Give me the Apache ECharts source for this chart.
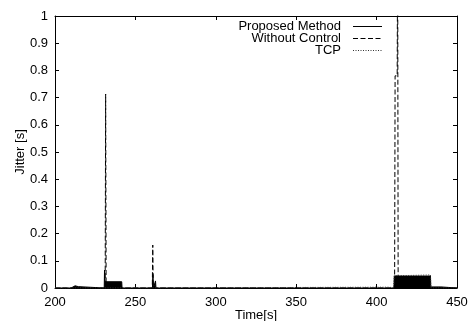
<!DOCTYPE html>
<html>
<head>
<meta charset="utf-8">
<script src="https://cdn.jsdelivr.net/npm/echarts@6/dist/echarts.min.js"></script>
<style>
  html, body { margin: 0; padding: 0; background: #fff; }
  #chart { width: 468px; height: 321px; }
</style>
</head>
<body>
<div id="chart"></div>
<script>
  // Proposed Method (solid)
  var pmTime = [200, 210, 210.5, 212.5, 214.5, 215, 230.6, 230.8, 231.1, 231.5, 241.5, 241.7,
    260.6, 260.9, 261.2, 262.2, 262.5, 262.8, 392.5, 393, 393.5, 398.3, 398.6, 398.9,
    410.8, 411, 433.5, 433.7, 440, 440.2, 450];
  var pmJitter = [0, 0, 0.005, 0.008, 0.005, 0, 0, 0.066, 0.023, 0.023, 0.023, 0,
    0, 0.05, 0, 0, 0.026, 0, 0, 0.005, 0, 0, 0.005, 0,
    0, 0.044, 0.044, 0.004, 0.004, 0, 0];
  // Without Control (dashed)
  var wcTime = [200, 231.2, 231.5, 231.8, 260.5, 260.8, 261.1, 411.2, 411.5, 412.8, 413.1, 413.4, 450];
  var wcJitter = [0, 0, 0.713, 0, 0, 0.158, 0, 0, 0.78, 0.78, 1.3, 0, 0];
  // TCP (dotted)
  var tcpTime = [200, 241.8, 242, 408, 410.5, 411, 419.5, 420, 433.5, 433.8, 450];
  var tcpJitter = [0, 0, 0.003, 0.003, 0, 0.046, 0.046, 0.048, 0.048, 0, 0];

  var seriesNames = ['Proposed Method', 'Without Control', 'TCP'];
  var dashes = [null, [5, 2.5], [1, 1.5]];

  function zip(xs, ys) {
    return xs.map(function (x, i) { return [x, ys[i]]; });
  }

  var font = 'Liberation Sans, Arial, Helvetica, sans-serif';
  var chart = echarts.init(document.getElementById('chart'));

  function xAx(pos, show) {
    return {
      type: 'value', position: pos, min: 200, max: 450, interval: 50,
      name: show ? 'Time[s]' : '', nameLocation: 'middle', nameGap: 21, nameMoveOverlap: false,
      nameTextStyle: { color: '#000', fontSize: 13, fontFamily: font },
      axisLine: { show: true, onZero: false, lineStyle: { color: '#000', width: 1 } },
      axisTick: { show: true, inside: true, length: 4, lineStyle: { color: '#000' } },
      axisLabel: { show: show, color: '#000', fontSize: 13, fontFamily: font, margin: 8,
        showMinLabel: true, showMaxLabel: true },
      splitLine: { show: false }
    };
  }
  function yAx(pos, show) {
    return {
      type: 'value', position: pos, min: 0, max: 1, interval: 0.1,
      name: show ? 'Jitter [s]' : '', nameLocation: 'middle', nameGap: 28, nameMoveOverlap: false,
      nameTextStyle: { color: '#000', fontSize: 13, fontFamily: font },
      axisLine: { show: true, onZero: false, lineStyle: { color: '#000', width: 1 } },
      axisTick: { show: true, inside: true, length: 4, lineStyle: { color: '#000' } },
      axisLabel: { show: show, color: '#000', fontSize: 13, fontFamily: font, margin: 7,
        showMinLabel: true, showMaxLabel: true },
      splitLine: { show: false }
    };
  }

  // key drawn by hand (text left of line sample, gnuplot style)
  var keyItems = [];
  seriesNames.forEach(function (name, i) {
    var y = 26.5 + i * 12;
    keyItems.push({
      type: 'text', x: 341, y: y,
      style: { text: name, fill: '#000', font: '13px ' + font, align: 'right', verticalAlign: 'middle' }
    });
    keyItems.push({
      type: 'line', shape: { x1: 353, y1: y, x2: 382, y2: y },
      style: { stroke: i === 2 ? '#333' : '#000', lineWidth: 1, lineDash: dashes[i] }
    });
  });

  var option = {
    animation: false,
    backgroundColor: '#fff',
    grid: { left: 55, right: 11, top: 16, bottom: 33, containLabel: false, outerBoundsMode: 'none' },
    graphic: keyItems,
    xAxis: [xAx('bottom', true), xAx('top', false)],
    yAxis: [yAx('left', true), yAx('right', false)],
    series: [
      {
        name: seriesNames[0], type: 'line', symbol: 'none', data: zip(pmTime, pmJitter),
        lineStyle: { color: '#000', width: 1, type: 'solid' },
        areaStyle: { color: '#000', opacity: 1 }
      },
      {
        name: seriesNames[1], type: 'line', symbol: 'none', data: zip(wcTime, wcJitter),
        lineStyle: { color: '#000', width: 1, type: dashes[1] }
      },
      {
        name: seriesNames[2], type: 'line', symbol: 'none', data: zip(tcpTime, tcpJitter),
        lineStyle: { color: '#333', width: 1, type: dashes[2] }
      }
    ]
  };
  chart.setOption(option);
</script>
</body>
</html>
